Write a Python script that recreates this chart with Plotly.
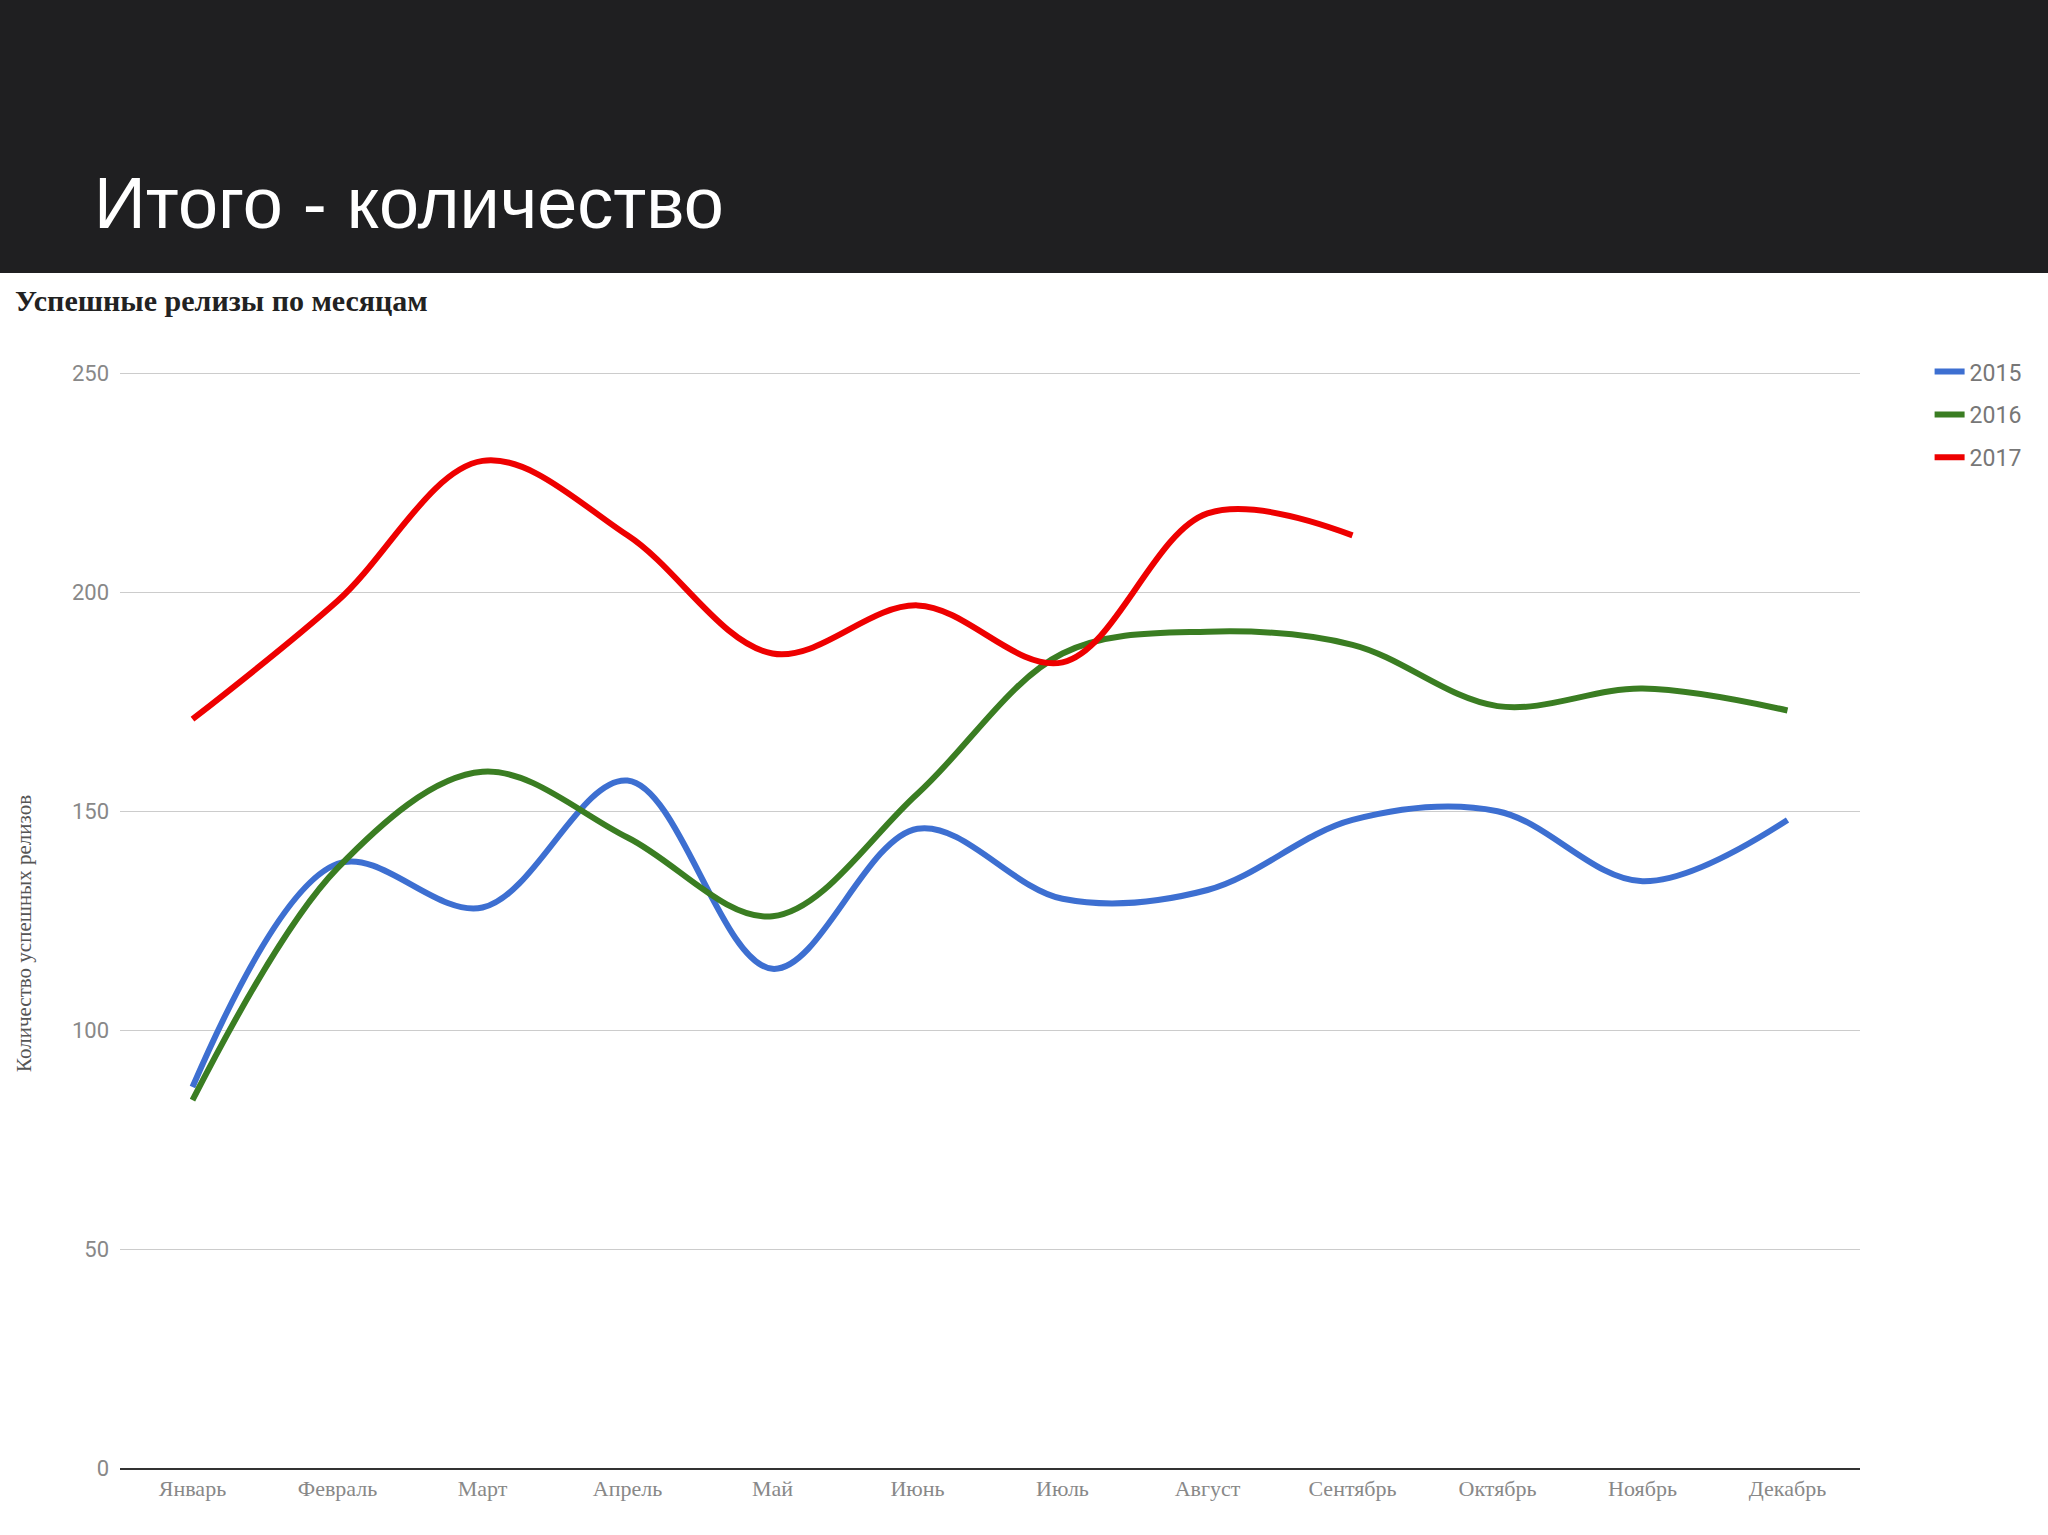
import plotly.graph_objects as go

months = ["Январь","Февраль","Март","Апрель","Май","Июнь","Июль","Август","Сентябрь","Октябрь","Ноябрь","Декабрь"]
s2015 = [87,138,128,157,114,146,130,132,148,150,134,148]
s2016 = [84,137,159,144,126,154,186,191,188,174,178,173]
s2017 = [171,198,230,213,186,197,184,218,213]

W, H = 2048, 1535
L, R, T, B = 120, 188, 372, 67
pw, ph = W - L - R, H - T - B

fig = go.Figure()
for name, ys, col in [("2015", s2015, "#3d6fd1"), ("2016", s2016, "#3a7d22"), ("2017", s2017, "#ee0000")]:
    fig.add_trace(go.Scatter(x=months[:len(ys)], y=ys, name=name, mode="lines", legendgroup=name,
                             line=dict(color=col, width=6, shape="spline", smoothing=1.0)))

fig.add_shape(type="rect", xref="paper", yref="paper",
              x0=-L/pw, x1=(W-L)/pw, y0=(H-B-273)/ph, y1=(H-B)/ph,
              fillcolor="#1f1f21", line_width=0, layer="below")
fig.add_annotation(text="Итого - количество", xref="paper", yref="paper",
                   x=(92-L)/pw, y=(H-B-203)/ph, xanchor="left", yanchor="middle",
                   showarrow=False, font=dict(family="Liberation Sans", size=72, color="white"))
fig.add_annotation(text="<b>Успешные релизы по месяцам</b>", xref="paper", yref="paper",
                   x=(13-L)/pw, y=(H-B-300)/ph, xanchor="left", yanchor="middle",
                   showarrow=False, font=dict(family="Liberation Serif", size=30, color="#222"))
fig.add_annotation(text="Количество успешных релизов", xref="paper", yref="paper",
                   x=(24-L)/pw, y=(H-B-934)/ph, xanchor="center", yanchor="middle", textangle=-90,
                   showarrow=False, font=dict(family="Liberation Serif", size=21, color="#555"))

fig.update_layout(
    width=W, height=H, margin=dict(l=L, r=R, t=T, b=B, autoexpand=False),
    paper_bgcolor="white", plot_bgcolor="white", showlegend=True,
    legend=dict(x=1.04, y=1.02, xanchor="left", yanchor="top", tracegroupgap=10,
                font=dict(family="Roboto", size=23, color="#777"), itemwidth=30),
    xaxis=dict(tickfont=dict(family="Liberation Serif", size=22, color="#888"), automargin=False,
               showgrid=False, showline=True, linecolor="#333", linewidth=2, ticks="",
               range=[-0.5, 11.5]),
    yaxis=dict(range=[0, 250.3], tickvals=[0,50,100,150,200,250], automargin=False,
               tickfont=dict(family="Roboto", size=22, color="#888"),
               gridcolor="#cccccc", zeroline=False, ticks="", ticklabelstandoff=10),
)
fig.write_html("out.html", config={"displayModeBar": False},
               post_script="document.body.style.margin='0';document.body.style.overflow='hidden';")
